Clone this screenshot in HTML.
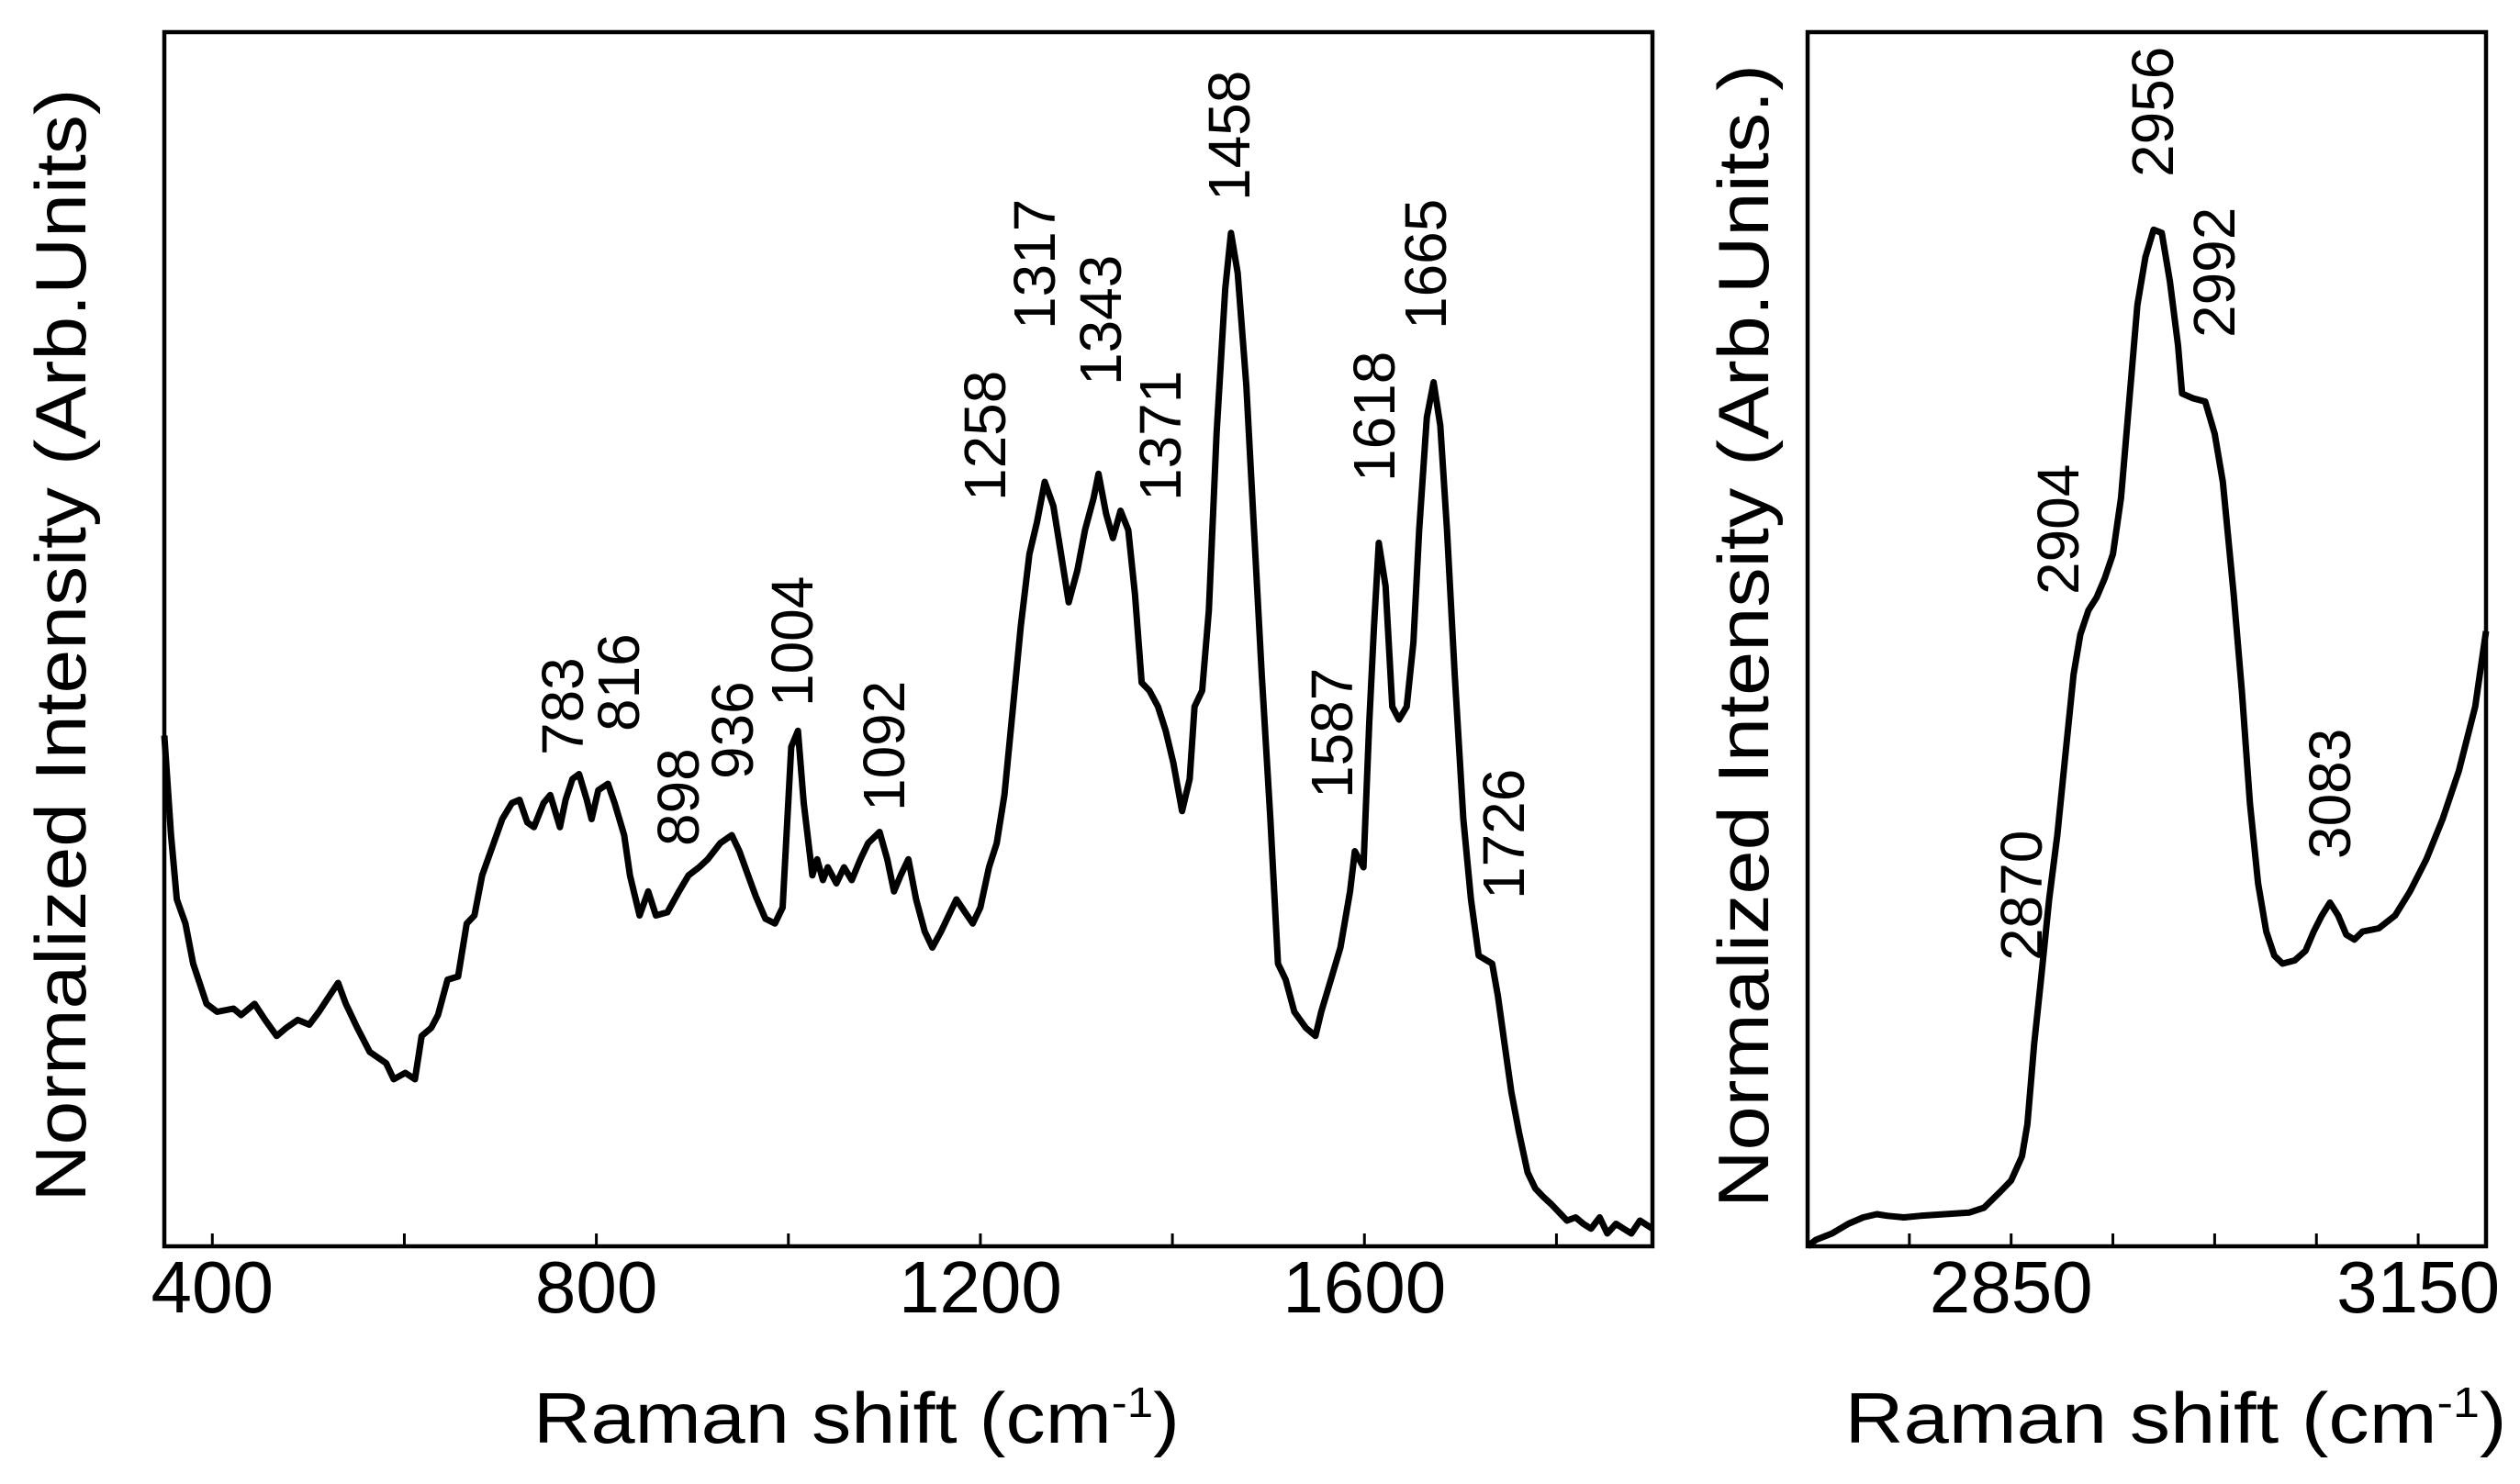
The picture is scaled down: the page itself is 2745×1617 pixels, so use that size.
<!DOCTYPE html>
<html><head><meta charset="utf-8"><style>
html,body{margin:0;padding:0;background:#fff;}
svg{display:block;font-family:"Liberation Sans",Arial,sans-serif;}
</style></head><body>
<svg id="chart" width="2745" height="1617" viewBox="0 0 2745 1617"></svg>
<script>
// Left panel data (fingerprint region)
const leftWavenumbers=[350,357,363,372,380,394,405,422,430,444,455,467,477,489,501,511,522,531,539,551,564,581,589,601,611,618,628,635,645,656,665,673,681,690,702,712,720,728,735,745,752,762,768,775,782,790,795,802,812,819,829,835,845,854,862,874,886,896,907,916,929,941,949,958,966,976,986,994,1003,1010,1016,1025,1030,1036,1041,1050,1058,1066,1075,1083,1095,1103,1110,1117,1125,1133,1142,1150,1159,1167,1175,1184,1192,1200,1209,1217,1225,1234,1242,1251,1259,1267,1276,1284,1292,1301,1309,1318,1323,1331,1338,1346,1354,1361,1368,1376,1385,1393,1401,1410,1418,1423,1431,1438,1446,1455,1461,1468,1477,1485,1493,1502,1510,1518,1527,1539,1549,1555,1565,1575,1585,1590,1599,1605,1610,1615,1622,1629,1636,1644,1651,1657,1665,1672,1679,1686,1694,1703,1711,1719,1733,1739,1746,1753,1761,1770,1778,1786,1795,1803,1811,1820,1828,1836,1845,1853,1862,1870,1878,1887,1900];
const leftIntensity=[318,256,216,201,176,151,146,148,144,151,141,131,136,141,138,146,156,164,151,136,121,114,104,108,104,131,136,144,166,168,201,206,231,246,266,276,278,264,261,276,281,261,278,291,294,278,266,284,288,276,256,231,206,221,206,208,221,231,236,241,251,256,246,231,218,204,201,211,311,321,276,231,241,228,236,226,236,228,241,251,258,241,221,231,241,216,196,186,196,206,216,208,201,211,236,251,281,336,386,431,451,476,461,431,401,421,446,466,481,456,441,458,446,406,351,346,336,321,301,271,291,336,346,396,506,596,631,606,536,446,356,266,176,166,146,136,131,146,166,186,221,246,236,326,386,438,411,336,328,336,376,446,516,538,511,446,356,266,216,181,176,156,126,96,71,46,36,31,26,21,16,18,14,11,18,8,14,11,8,16,11];
// Right panel data (high-wavenumber region)
const rightWavenumbers=[2700,2706,2718,2730,2741,2751,2759,2771,2783,2801,2819,2830,2842,2850,2858,2862,2867,2872,2878,2884,2890,2896,2901,2907,2913,2919,2925,2931,2937,2943,2949,2955,2961,2967,2973,2976,2984,2993,3000,3006,3014,3020,3026,3032,3038,3044,3050,3059,3067,3073,3079,3085,3091,3097,3103,3109,3121,3133,3144,3156,3168,3180,3192,3200];
const rightIntensity=[0,4,8,14,18,20,19,18,19,20,21,24,34,41,56,76,126,166,216,256,306,356,381,396,404,416,431,466,526,586,616,633,631,601,561,531,528,526,506,476,406,346,276,226,196,181,176,178,184,196,206,214,206,194,191,196,198,206,221,241,266,296,336,383];
const leftTicks=[400,600,800,1000,1200,1400,1600,1800];
const leftTickLabels=[400,800,1200,1600];
const rightTicks=[2775,2850,2925,3000,3075,3150];
const rightTickLabels=[2850,3150];
const leftPeakLabels=["783","816","898","936","1004","1092","1258","1317","1343","1371","1458","1587","1618","1665","1726"];
const rightPeakLabels=["2956","2992","2904","2870","3083"];

const NS="http://www.w3.org/2000/svg";
const svg=document.getElementById('chart');
function mk(tag,attrs,parent){const e=document.createElementNS(NS,tag);for(const k in attrs)e.setAttribute(k,attrs[k]);(parent||svg).appendChild(e);return e;}

const L={x0:179,x1:1800,y0:35,y1:1358,xmin:350,xmax:1900,ymax:756};
const R={x0:1969,x1:2708,y0:35,y1:1358,xmin:2700,xmax:3200,ymax:756};
function sx(p,v){return p.x0+(v-p.xmin)/(p.xmax-p.xmin)*(p.x1-p.x0);}
function sy(p,v){return p.y1-v/p.ymax*(p.y1-p.y0);}

function panel(p,xs,ys,ticks,tlabels,name){
  const g=mk('g',{});
  
  
  let d='';
  xs.forEach((x,i)=>{d+=(i?'L':'M')+sx(p,x).toFixed(1)+','+sy(p,ys[i]).toFixed(1);});
  const line=mk('path',{d:d,fill:'none',stroke:'#000','stroke-width':7,'stroke-linejoin':'round'},g);
  
  
  const fr=mk('rect',{x:p.x0,y:p.y0,width:p.x1-p.x0,height:p.y1-p.y0,fill:'none',stroke:'#000','stroke-width':4.5},g);
  
  
  ticks.forEach(t=>{
    const tk=mk('line',{x1:sx(p,t),x2:sx(p,t),y1:p.y1,y2:p.y1-14,stroke:'#000','stroke-width':3},g);
    
    
  });
  tlabels.forEach(t=>{
    const tl=mk('text',{x:sx(p,t),y:1430,'font-size':80,'text-anchor':'middle',fill:'#000'},g);
    tl.textContent=t;
    
    
  });
}
panel(L,leftWavenumbers,leftIntensity,leftTicks,leftTickLabels,'left');
panel(R,rightWavenumbers,rightIntensity,rightTicks,rightTickLabels,'right');

function rot(txt,x,yb,name){
  const t=mk('text',{x:0,y:0,'font-size':64,fill:'#000',transform:`translate(${x},${yb}) rotate(-90)`,'dominant-baseline':'central'});
  t.textContent=txt;
  
  
}
const leftPeakPos=[[613,823],[674,797],[739,922],[798,849],[863,770],[963,884],[1073,546],[1127,359],[1199,420],[1264,546],[1339,219],[1451,870],[1497,525],[1553,359],[1638,980]];
leftPeakLabels.forEach((s,i)=>rot(s,leftPeakPos[i][0],leftPeakPos[i][1],'peak-label-'+s));
const rightPeakPos=[[2345,193],[2412,368],[2242,648],[2202,1047],[2538,936]];
rightPeakLabels.forEach((s,i)=>rot(s,rightPeakPos[i][0],rightPeakPos[i][1],'peak-label-'+s));

function title(txt,x,y,len,rotate,name){
  const t=mk('text',{x:0,y:0,'font-size':78,'text-anchor':'middle',fill:'#000',textLength:len,lengthAdjust:'spacingAndGlyphs',
    transform:`translate(${x},${y})`+(rotate?' rotate(-90)':''),'dominant-baseline':rotate?'central':'auto'});
  t.innerHTML=txt;
  
  
}
title('Raman shift (cm<tspan font-size="46" dy="-28">-1</tspan><tspan dy="28">)</tspan>',933,1572,704,false,'left-x-axis-title');
title('Raman shift (cm<tspan font-size="46" dy="-28">-1</tspan><tspan dy="28">)</tspan>',2370,1572,721,false,'right-x-axis-title');
title('Normalized Intensity (Arb.Units)',66,703,1213,true,'left-y-axis-title');
title('Normalized Intensity (Arb.Units.)',1899,693,1246,true,'right-y-axis-title');
</script>
</body></html>
